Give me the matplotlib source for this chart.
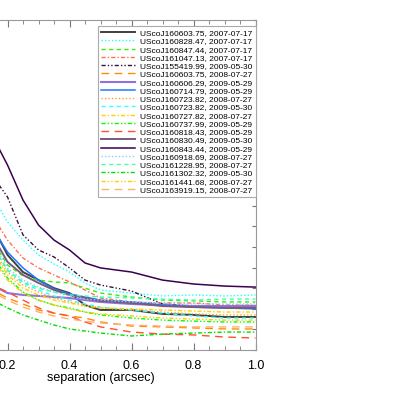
import numpy as np
import matplotlib
matplotlib.use("Agg")
from matplotlib import pyplot as plt
from matplotlib.ticker import MultipleLocator

plt.rcParams['font.family'] = ['Liberation Sans', 'DejaVu Sans']
plt.rcParams['lines.scale_dashes'] = False

# separation grid (arcsec)
sep = [0.15, 0.2, 0.25, 0.3, 0.35, 0.4, 0.45, 0.5, 0.6, 0.7, 0.8, 0.9, 1.0]

names = ["UScoJ160603.75, 2007-07-17", "UScoJ160828.47, 2007-07-17",
         "UScoJ160847.44, 2007-07-17", "UScoJ161047.13, 2007-07-17",
         "UScoJ155419.99, 2009-05-30", "UScoJ160603.75, 2008-07-27",
         "UScoJ160606.29, 2009-05-29", "UScoJ160714.79, 2009-05-29",
         "UScoJ160723.82, 2008-07-27", "UScoJ160723.82, 2009-05-30",
         "UScoJ160727.82, 2008-07-27", "UScoJ160737.99, 2009-05-29",
         "UScoJ160818.43, 2009-05-29", "UScoJ160830.49, 2009-05-30",
         "UScoJ160843.44, 2009-05-29", "UScoJ160918.69, 2008-07-27",
         "UScoJ161228.95, 2008-07-27", "UScoJ161302.32, 2009-05-30",
         "UScoJ161441.68, 2008-07-27", "UScoJ163919.15, 2008-07-27"]

c1 = [9.94, 11.39, 12.22, 12.61, 13.00, 13.24, 13.82, 14.06, 14.06, 14.25, 14.30, 14.40, 14.40]
c2 = [8.48, 9.79, 10.67, 11.39, 11.83, 12.22, 12.75, 13.09, 13.24, 13.38, 13.33, 13.38, 13.33]
c3 = [10.67, 11.88, 12.41, 12.61, 12.70, 12.75, 13.00, 13.24, 13.43, 13.58, 13.62, 13.67, 13.67]
c4 = [9.45, 10.67, 11.54, 12.02, 12.36, 12.70, 13.09, 13.48, 13.67, 13.72, 13.72, 13.82, 13.82]
c5 = [7.52, 8.58, 10.42, 11.15, 11.49, 12.02, 12.61, 12.85, 13.14, 13.77, 13.87, 13.92, 13.96]
c6 = [13.09, 13.48, 13.77, 14.06, 14.21, 14.35, 14.45, 14.64, 14.84, 14.88, 14.93, 14.98, 14.98]
c7 = [12.85, 13.24, 13.33, 13.38, 13.43, 13.48, 13.58, 13.67, 13.77, 13.82, 13.87, 13.87, 13.87]
c8 = [10.09, 11.25, 12.02, 12.61, 13.04, 13.28, 13.43, 13.58, 13.67, 13.82, 13.92, 13.96, 14.01]
c9 = [11.06, 12.22, 12.85, 13.19, 13.48, 13.67, 13.82, 13.96, 14.06, 14.16, 14.25, 14.30, 14.30]
c10 = [10.91, 12.12, 12.75, 13.09, 13.38, 13.58, 13.77, 13.92, 14.06, 14.21, 14.35, 14.45, 14.45]
c11 = [11.15, 12.36, 13.00, 13.33, 13.58, 13.72, 13.87, 13.96, 14.01, 14.06, 14.11, 14.16, 14.16]
c12 = [11.39, 12.51, 13.19, 13.58, 13.82, 13.96, 14.16, 14.30, 14.45, 14.55, 14.60, 14.64, 14.64]
c13 = [12.85, 13.19, 13.58, 13.96, 14.21, 14.35, 14.64, 14.88, 15.13, 15.23, 15.27, 15.37, 15.42]
c14 = [10.42, 11.73, 12.36, 12.75, 13.09, 13.33, 13.48, 13.62, 13.72, 13.87, 13.92, 13.96, 13.96]
c15 = [5.58, 7.03, 8.73, 9.94, 10.67, 11.15, 11.78, 12.02, 12.22, 12.61, 12.80, 12.90, 12.95]
c16 = [10.67, 12.02, 12.61, 12.95, 13.19, 13.38, 13.53, 13.58, 13.67, 13.72, 13.77, 13.77, 13.77]
c17 = [10.91, 12.12, 12.70, 13.00, 13.19, 13.33, 13.38, 13.43, 13.48, 13.53, 13.58, 13.53, 13.53]
c18 = [13.58, 13.96, 14.30, 14.55, 14.79, 14.98, 15.08, 15.18, 15.32, 15.23, 15.18, 15.13, 15.13]
c19 = [11.54, 12.61, 13.24, 13.58, 13.82, 14.01, 14.16, 14.25, 14.35, 14.45, 14.50, 14.55, 14.55]
c20 = [13.19, 13.58, 13.92, 14.16, 14.35, 14.50, 14.60, 14.69, 14.79, 14.84, 14.88, 14.88, 14.88]
curves = [c1, c2, c3, c4, c5, c6, c7, c8, c9, c10,
          c11, c12, c13, c14, c15, c16, c17, c18, c19, c20]

colors = ['#404040', '#20ffff', '#33ee00', '#ff7050', '#3a0f3a',
          '#ff8c00', '#9370db', '#1e78ff', '#ffa030', '#30ffff',
          '#ffd000', '#00ff00', '#ff5030', '#7a5a7a', '#3b0050',
          '#87cefa', '#40ffb0', '#00e000', '#ffcc00', '#ffb070']

dot = (0, (1, 1.5))
dash = (0, (3, 2.5))
ddot = (0, (3, 1.5, 1, 1.5))
d3dot = (0, (3, 1.5, 1, 1.5, 1, 1.5))
ldash = (0, (5.5, 4))
styles = ['-', dot, dash, ddot, d3dot, ldash, '-', '-', dot, dash,
          ddot, d3dot, ldash, '-', '-', dot, dash, ddot, d3dot, ldash]
widths = [1.4, 1, 1, 1, 1, 1, 1.5, 1.1, 1, 1,
          1, 1, 1, 1.4, 1.1, 1, 1, 1, 1, 1]

fig = plt.figure(figsize=(3.93, 3.93), dpi=100)
ax = fig.add_axes([-54.5/393, 43/393, 310/393, 330/393])

for i in range(20):
	ax.plot(sep, curves[i], color=colors[i], ls=styles[i], lw=widths[i], label=names[i])

ax.set_xlim(0, 1.0)
ax.set_ylim(16, 0)
ax.xaxis.set_major_locator(MultipleLocator(0.2))
ax.xaxis.set_minor_locator(MultipleLocator(0.05))
ax.yaxis.set_major_locator(MultipleLocator(1))
ax.tick_params(which='both', direction='in', top=True, right=True, colors='#777777',
               labelcolor='black', labelsize=9, pad=7, labelleft=False)
ax.tick_params(which='major', length=5)
ax.tick_params(which='minor', length=3)
ax.tick_params(axis='y', which='major', length=3)
for s in ax.spines.values():
	s.set_color('#999999')
ax.set_xlabel('separation (arcsec)', fontsize=9, labelpad=0)

leg = ax.legend(loc='upper right', bbox_to_anchor=(1.0, 0.982), borderaxespad=0,
                fontsize=6, handlelength=4, handletextpad=0.6, labelspacing=0.05,
                borderpad=0.4, fancybox=False, framealpha=1, edgecolor='#aaaaaa')
leg.get_frame().set_linewidth(0.8)

plt.savefig('out.png', dpi=100)
